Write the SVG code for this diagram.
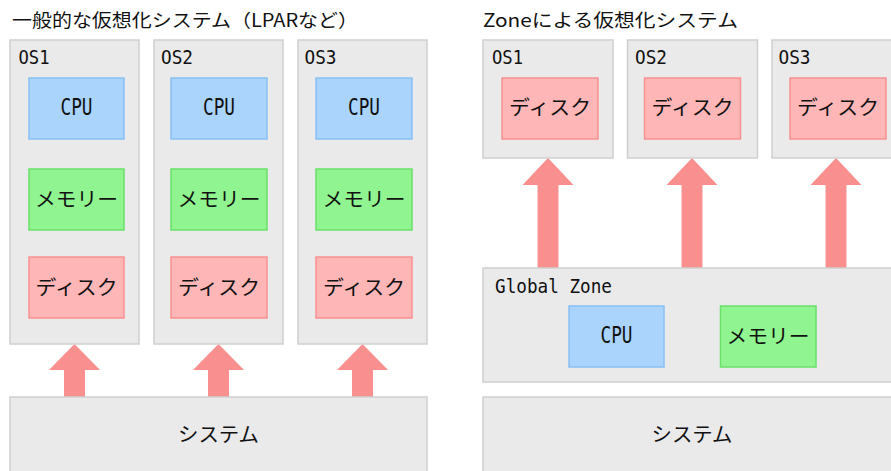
<svg xmlns="http://www.w3.org/2000/svg" width="891" height="471" viewBox="0 0 891 471">
<style>
text{font-family:"Noto Sans CJK JP","Noto Sans",sans-serif;fill:#111;}
.title{font-size:18px;}
.lbl{font-family:"DejaVu Sans Mono","Liberation Mono",monospace;font-size:19px;}
.big{font-family:"DejaVu Sans Mono","Liberation Mono",monospace;font-size:23px;text-anchor:middle;}
.jp{font-size:20px;text-anchor:middle;}
.os{fill:#EAEAEA;stroke:#CFCFCF;stroke-width:1.5;}
.cpu{fill:#AAD4FB;stroke:#88C0F5;stroke-width:1.5;}
.mem{fill:#90F590;stroke:#6ADF6A;stroke-width:1.5;}
.disk{fill:#FFB6B6;stroke:#F99090;stroke-width:1.5;}
.arrow{fill:#F98F8F;}
</style>
<rect width="891" height="471" fill="#FFFFFF"/>
<text class="title" x="12" y="27" textLength="346" lengthAdjust="spacingAndGlyphs">一般的な仮想化システム（LPARなど）</text>
<text class="title" x="483" y="27" textLength="255" lengthAdjust="spacingAndGlyphs">Zoneによる仮想化システム</text>

<g id="connectors">
<path class="arrow" d="M74.5,344 L100,370 L85,370 L85,397 L64,397 L64,370 L49,370 Z"/>
<path class="arrow" d="M218.5,344 L244,370 L229,370 L229,397 L208,397 L208,370 L193,370 Z"/>
<path class="arrow" d="M362.5,344 L388,370 L373,370 L373,397 L352,397 L352,370 L337,370 Z"/>
<path class="arrow" d="M548,158 L573.5,185 L558.5,185 L558.5,268 L537.5,268 L537.5,185 L522.5,185 Z"/>
<path class="arrow" d="M692,158 L717.5,185 L702.5,185 L702.5,268 L681.5,268 L681.5,185 L666.5,185 Z"/>
<path class="arrow" d="M836,158 L861.5,185 L846.5,185 L846.5,268 L825.5,268 L825.5,185 L810.5,185 Z"/>
</g>

<g id="left-os1">
<rect class="os" x="10" y="40" width="129" height="304"/>
<text class="lbl" x="18.5" y="64" textLength="31" lengthAdjust="spacingAndGlyphs">OS1</text>
<rect class="cpu" x="29" y="78" width="95" height="61"/>
<text class="big" x="76.5" y="115" textLength="32" lengthAdjust="spacingAndGlyphs">CPU</text>
<rect class="mem" x="29" y="169" width="95" height="61"/>
<text class="jp" x="76.5" y="207" textLength="83" lengthAdjust="spacingAndGlyphs">メモリー</text>
<rect class="disk" x="29" y="257" width="95" height="61"/>
<text class="jp" x="76.5" y="295" textLength="82" lengthAdjust="spacingAndGlyphs">ディスク</text>
</g>
<g id="left-os2">
<rect class="os" x="154" y="40" width="129" height="304"/>
<text class="lbl" x="161" y="64" textLength="32" lengthAdjust="spacingAndGlyphs">OS2</text>
<rect class="cpu" x="171" y="78" width="96" height="61"/>
<text class="big" x="219" y="115" textLength="32" lengthAdjust="spacingAndGlyphs">CPU</text>
<rect class="mem" x="171" y="169" width="96" height="61"/>
<text class="jp" x="219" y="207" textLength="83" lengthAdjust="spacingAndGlyphs">メモリー</text>
<rect class="disk" x="171" y="257" width="96" height="61"/>
<text class="jp" x="219" y="295" textLength="82" lengthAdjust="spacingAndGlyphs">ディスク</text>
</g>
<g id="left-os3">
<rect class="os" x="298" y="40" width="129" height="304"/>
<text class="lbl" x="304.5" y="64" textLength="32" lengthAdjust="spacingAndGlyphs">OS3</text>
<rect class="cpu" x="316" y="78" width="96" height="61"/>
<text class="big" x="364" y="115" textLength="32" lengthAdjust="spacingAndGlyphs">CPU</text>
<rect class="mem" x="316" y="169" width="96" height="61"/>
<text class="jp" x="364" y="207" textLength="83" lengthAdjust="spacingAndGlyphs">メモリー</text>
<rect class="disk" x="316" y="257" width="96" height="61"/>
<text class="jp" x="364" y="295" textLength="82" lengthAdjust="spacingAndGlyphs">ディスク</text>
</g>
<g id="left-system">
<rect class="os" x="10" y="397" width="417" height="90"/>
<text class="jp" x="218.5" y="441.5" textLength="81" lengthAdjust="spacingAndGlyphs">システム</text>
</g>

<g id="right-os1">
<rect class="os" x="483" y="40" width="130" height="118"/>
<text class="lbl" x="492" y="64" textLength="31" lengthAdjust="spacingAndGlyphs">OS1</text>
<rect class="disk" x="502" y="78" width="96" height="61"/>
<text class="jp" x="550" y="115" textLength="82" lengthAdjust="spacingAndGlyphs">ディスク</text>
</g>
<g id="right-os2">
<rect class="os" x="627.5" y="40" width="130" height="118"/>
<text class="lbl" x="635" y="64" textLength="32" lengthAdjust="spacingAndGlyphs">OS2</text>
<rect class="disk" x="644.5" y="78" width="96" height="61"/>
<text class="jp" x="692.5" y="115" textLength="82" lengthAdjust="spacingAndGlyphs">ディスク</text>
</g>
<g id="right-os3">
<rect class="os" x="772" y="40" width="130" height="118"/>
<text class="lbl" x="778.5" y="64" textLength="32" lengthAdjust="spacingAndGlyphs">OS3</text>
<rect class="disk" x="790" y="78" width="96" height="61"/>
<text class="jp" x="838" y="115" textLength="82" lengthAdjust="spacingAndGlyphs">ディスク</text>
</g>
<g id="global-zone">
<rect class="os" x="483" y="268" width="420" height="114"/>
<text class="lbl" x="495" y="293" textLength="117" lengthAdjust="spacingAndGlyphs">Global Zone</text>
<rect class="cpu" x="569" y="306" width="95" height="61"/>
<text class="big" x="616.5" y="343" textLength="32" lengthAdjust="spacingAndGlyphs">CPU</text>
<rect class="mem" x="720.5" y="306" width="95.5" height="61"/>
<text class="jp" x="768" y="344" textLength="83" lengthAdjust="spacingAndGlyphs">メモリー</text>
</g>
<g id="right-system">
<rect class="os" x="483" y="397" width="420" height="90"/>
<text class="jp" x="692" y="441.5" textLength="81" lengthAdjust="spacingAndGlyphs">システム</text>
</g>
</svg>
